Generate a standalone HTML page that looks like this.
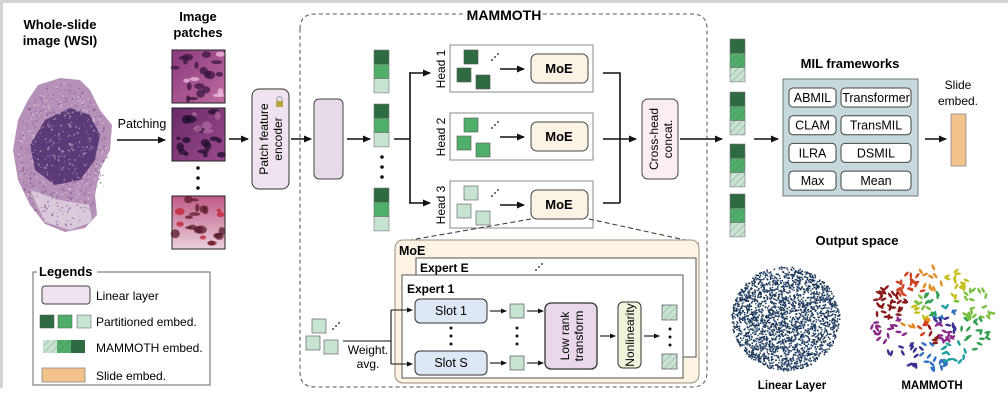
<!DOCTYPE html>
<html><head><meta charset="utf-8"><style>
html,body{margin:0;padding:0;background:#fff}
svg{display:block;font-family:"Liberation Sans",Arial,sans-serif}
.b{font-weight:bold}
</style></head><body>
<svg id="s" width="1008" height="410" viewBox="0 0 1008 410" xmlns="http://www.w3.org/2000/svg">
<defs>
<marker id="ar" markerWidth="8" markerHeight="8" refX="7" refY="4" orient="auto" markerUnits="userSpaceOnUse"><path d="M0,0.5 L8,4 L0,7.5 z" fill="#111"/></marker>
<marker id="ars" markerWidth="6" markerHeight="6" refX="5" refY="3" orient="auto" markerUnits="userSpaceOnUse"><path d="M0,0.5 L6,3 L0,5.5 z" fill="#111"/></marker>
<pattern id="h" width="5" height="5" patternUnits="userSpaceOnUse" patternTransform="rotate(45)"><line x1="0" y1="0" x2="0" y2="5" stroke="#555" stroke-width="0.8" opacity="0.6"/></pattern>
<linearGradient id="pg1" x1="0" y1="0" x2="1" y2="1"><stop offset="0" stop-color="#8a3a7c"/><stop offset="1" stop-color="#c06aa0"/></linearGradient>
<linearGradient id="pg2" x1="0" y1="0" x2="1" y2="1"><stop offset="0" stop-color="#6a2a6a"/><stop offset="1" stop-color="#9a4a8e"/></linearGradient>
<linearGradient id="pg3" x1="0" y1="0" x2="0" y2="1"><stop offset="0" stop-color="#c05a86"/><stop offset="1" stop-color="#e9d0dc"/></linearGradient>
</defs>
<rect x="0" y="0" width="1008" height="3" fill="#d4d4d4"/>
<rect x="0" y="0" width="3" height="388" fill="#d4d4d4"/>

<text x="60" y="29" text-anchor="middle" class="b" font-size="13">Whole-slide</text>
<text x="60" y="45" text-anchor="middle" class="b" font-size="13">image (WSI)</text>
<path d="M38,85 L60,78 L80,80 L90,90 L100,110 L112,125 L110,150 L100,170 L95,195 L97,215 L85,228 L65,232 L45,224 L30,205 L18,180 L13,150 L18,120 L28,100 Z" fill="#b591b8"/>
<path d="M45,120 L70,108 L90,115 L100,135 L95,160 L80,180 L55,185 L35,170 L30,145 Z" fill="#5c3a78"/>
<path d="M30,190 L60,200 L90,205 L92,222 L70,230 L45,222 Z" fill="#d8c8da"/>
<g id="wsidots"></g>

<text x="198" y="21" text-anchor="middle" class="b" font-size="13">Image</text>
<text x="198" y="37" text-anchor="middle" class="b" font-size="13">patches</text>
<rect x="172" y="50" width="53" height="53" fill="url(#pg1)" stroke="#222"/>
<rect x="172" y="108" width="53" height="53" fill="url(#pg2)" stroke="#222"/>
<rect x="172" y="196" width="53" height="53" fill="url(#pg3)" stroke="#222"/>
<g id="pdots"></g>
<circle cx="198" cy="168" r="1.8" fill="#111"/><circle cx="198" cy="178" r="1.8" fill="#111"/><circle cx="198" cy="188" r="1.8" fill="#111"/>
<text x="142" y="128" text-anchor="middle" font-size="12.5">Patching</text>
<line x1="117" y1="140" x2="165" y2="140" stroke="#111" stroke-width="1.6" marker-end="url(#ar)"/>
<line x1="229" y1="139" x2="248" y2="139" stroke="#111" stroke-width="1.6" marker-end="url(#ar)"/>

<rect x="252" y="89" width="37" height="100" rx="7" fill="#efe3ef" stroke="#333" stroke-width="1"/>
<text transform="translate(268,139) rotate(-90)" text-anchor="middle" font-size="12">Patch feature</text>
<text transform="translate(282,139) rotate(-90)" text-anchor="middle" font-size="12">encoder</text>
<rect x="276" y="101" width="7" height="6" fill="#b5a640"/><path d="M277,101 v-2 a2.5,2.5 0 0 1 5,0 v2" fill="none" stroke="#999" stroke-width="1"/>
<line x1="291" y1="139" x2="311" y2="139" stroke="#111" stroke-width="1.6" marker-end="url(#ar)"/>

<path d="M300,29 Q300,14 315,14 L692,14 Q707,14 707,29 L707,372 Q707,387 692,387 L315,387 Q300,387 300,372 Z" fill="none" stroke="#555" stroke-dasharray="4,3" stroke-width="1"/>
<rect x="466" y="5" width="76" height="18" fill="#fff"/>
<text x="504" y="20" text-anchor="middle" class="b" font-size="14">MAMMOTH</text>

<rect x="314" y="99" width="29" height="80" rx="5" fill="#e6dae9" stroke="#444"/>
<line x1="347" y1="139" x2="370" y2="139" stroke="#111" stroke-width="1.6" marker-end="url(#ar)"/>
<g id="stacks"></g>
<circle cx="382" cy="157" r="1.8" fill="#111"/><circle cx="382" cy="167" r="1.8" fill="#111"/><circle cx="382" cy="177" r="1.8" fill="#111"/>
<path d="M394,139 H410 M410,73 V203" stroke="#111" stroke-width="1.6" fill="none"/>
<line x1="409" y1="73" x2="430" y2="73" stroke="#111" stroke-width="1.6" marker-end="url(#ar)"/>
<line x1="409" y1="203" x2="430" y2="203" stroke="#111" stroke-width="1.6" marker-end="url(#ar)"/>

<g id="heads"></g>
<path d="M603,73 H620 V203 M603,203 H620" stroke="#111" stroke-width="1.6" fill="none"/>
<line x1="603" y1="139" x2="636" y2="139" stroke="#111" stroke-width="1.6" marker-end="url(#ar)"/>
<rect x="642" y="99" width="36" height="80" rx="6" fill="#fbeef2" stroke="#444"/>
<text transform="translate(658,139) rotate(-90)" text-anchor="middle" font-size="12">Cross-head</text>
<text transform="translate(672,139) rotate(-90)" text-anchor="middle" font-size="12">concat.</text>
<line x1="680" y1="139" x2="722" y2="139" stroke="#111" stroke-width="1.6" marker-end="url(#ar)"/>
<path d="M531,219 L405,241 M589,219 L699,243" stroke="#333" stroke-dasharray="5,3" fill="none"/>

<rect x="395" y="240" width="304" height="143" rx="8" fill="#fcf3e3" stroke="#9a8f80"/>
<text x="399" y="255" class="b" font-size="12.5">MoE</text>
<rect x="416" y="258" width="280" height="99" fill="#fff" stroke="#555"/>
<text x="420" y="272" class="b" font-size="12">Expert E</text>
<g fill="#111"><circle cx="536" cy="270" r="0.9"/><circle cx="539" cy="267" r="0.9"/><circle cx="542" cy="264" r="0.9"/></g>
<rect x="402" y="275" width="281" height="103" fill="#fff" stroke="#555"/>
<text x="407" y="293" class="b" font-size="12">Expert 1</text>
<rect x="415" y="299" width="72" height="24" rx="5" fill="#dde7f6" stroke="#333"/>
<text x="451" y="315" text-anchor="middle" font-size="12.5">Slot 1</text>
<rect x="415" y="351" width="72" height="24" rx="5" fill="#dde7f6" stroke="#333"/>
<text x="451" y="367" text-anchor="middle" font-size="12.5">Slot S</text>
<g fill="#111"><circle cx="451" cy="328" r="1.5"/><circle cx="451" cy="336" r="1.5"/><circle cx="451" cy="344" r="1.5"/>
<circle cx="517" cy="328" r="1.5"/><circle cx="517" cy="336" r="1.5"/><circle cx="517" cy="344" r="1.5"/>
<circle cx="670" cy="329" r="1.5"/><circle cx="670" cy="337" r="1.5"/><circle cx="670" cy="345" r="1.5"/></g>
<g stroke="#111" stroke-width="1.1" marker-end="url(#ars)">
<line x1="490" y1="311" x2="506" y2="311"/><line x1="490" y1="363" x2="506" y2="363"/>
<line x1="527" y1="311" x2="543" y2="311"/><line x1="527" y1="363" x2="543" y2="363"/>
<line x1="600" y1="336" x2="615" y2="336"/><line x1="644" y1="336" x2="659" y2="336"/>
</g>
<rect x="510" y="304" width="14" height="14" fill="#c7e3d2" stroke="#555" stroke-width="0.7"/>
<rect x="510" y="356" width="14" height="14" fill="#c7e3d2" stroke="#555" stroke-width="0.7"/>
<rect x="545" y="303" width="52" height="66" rx="6" fill="#e9d8ea" stroke="#333" stroke-width="1.3"/>
<text transform="translate(569,336) rotate(-90)" text-anchor="middle" font-size="12">Low rank</text>
<text transform="translate(583,336) rotate(-90)" text-anchor="middle" font-size="12">transform</text>
<rect x="618" y="302" width="23" height="66" rx="5" fill="#eef5dc" stroke="#333"/>
<text transform="translate(634,335) rotate(-90)" text-anchor="middle" font-size="12">Nonlinearity</text>
<rect x="662" y="305" width="15" height="15" fill="#c7e3d2"/><rect x="662" y="305" width="15" height="15" fill="url(#h)" stroke="#555" stroke-width="0.7"/>
<rect x="662" y="354" width="15" height="15" fill="#c7e3d2"/><rect x="662" y="354" width="15" height="15" fill="url(#h)" stroke="#555" stroke-width="0.7"/>
<rect x="312" y="319" width="14" height="14" fill="#c7e3d2" stroke="#666" stroke-width="0.7"/>
<rect x="306" y="336" width="14" height="14" fill="#c7e3d2" stroke="#666" stroke-width="0.7"/>
<rect x="324" y="340" width="14" height="14" fill="#c7e3d2" stroke="#666" stroke-width="0.7"/>
<g fill="#111"><circle cx="333" cy="329" r="0.9"/><circle cx="336" cy="326" r="0.9"/><circle cx="339" cy="323" r="0.9"/></g>
<path d="M343,341 H391 M391,310 V364" stroke="#111" stroke-width="1.1" fill="none"/>
<line x1="391" y1="310" x2="412" y2="310" stroke="#111" stroke-width="1.1" marker-end="url(#ars)"/>
<line x1="391" y1="364" x2="412" y2="364" stroke="#111" stroke-width="1.1" marker-end="url(#ars)"/>
<text x="368" y="354" text-anchor="middle" font-size="12">Weight.</text>
<text x="368" y="368" text-anchor="middle" font-size="12">avg.</text>

<line x1="754" y1="139" x2="778" y2="139" stroke="#111" stroke-width="1.6" marker-end="url(#ar)"/>
<text x="850" y="68" text-anchor="middle" class="b" font-size="13">MIL frameworks</text>
<rect x="783" y="79" width="135" height="117" fill="#c5d9dc" stroke="#777"/>
<g id="mil"></g>
<line x1="925" y1="139" x2="946" y2="139" stroke="#111" stroke-width="1.6" marker-end="url(#ar)"/>
<text x="958" y="89" text-anchor="middle" font-size="12">Slide</text>
<text x="958" y="105" text-anchor="middle" font-size="12">embed.</text>
<rect x="951" y="114" width="15" height="52" fill="#f3c18a" stroke="#888" stroke-width="0.8"/>

<text x="857" y="245" text-anchor="middle" class="b" font-size="13">Output space</text>
<g id="sc1"></g><g id="sc2"></g>
<text x="792" y="389" text-anchor="middle" class="b" font-size="11.5">Linear Layer</text>
<text x="932" y="389" text-anchor="middle" class="b" font-size="11.5">MAMMOTH</text>

<rect x="33" y="272" width="177" height="113" fill="#fff" stroke="#666"/>
<rect x="37" y="263" width="60" height="14" fill="#fff"/>
<text x="39" y="276" class="b" font-size="13">Legends</text>
<rect x="42" y="286" width="48" height="18" rx="3" fill="#efe3ef" stroke="#444"/>
<text x="96" y="300" font-size="12">Linear layer</text>
<rect x="40" y="315" width="14" height="13" fill="#2e6b40" stroke="#555" stroke-width="0.5"/>
<rect x="58" y="315" width="14" height="13" fill="#4fae6a" stroke="#555" stroke-width="0.5"/>
<rect x="77" y="315" width="14" height="13" fill="#c7e3d2" stroke="#555" stroke-width="0.5"/>
<text x="96" y="326" font-size="12">Partitioned embed.</text>
<rect x="43" y="340" width="14" height="13" fill="#c7e3d2"/><rect x="57" y="340" width="14" height="13" fill="#4fae6a"/><rect x="71" y="340" width="14" height="13" fill="#2e6b40"/>
<rect x="43" y="340" width="42" height="13" fill="url(#h)"/>
<text x="96" y="352" font-size="12">MAMMOTH embed.</text>
<rect x="42" y="368" width="43" height="14" fill="#f3c18a" stroke="#888" stroke-width="0.8"/>
<text x="96" y="380" font-size="12">Slide embed.</text>
</svg>
<script>
var NS="http://www.w3.org/2000/svg";
function el(p,t,a){var e=document.createElementNS(NS,t);for(var k in a)e.setAttribute(k,a[k]);document.getElementById(p).appendChild(e);return e;}
var seed=7;function r(){seed=(seed*16807)%2147483647;return seed/2147483647;}
var C=["#2e6b40","#4fae6a","#c7e3d2"];
function stack(x,y,h){for(var i=0;i<3;i++){el("stacks","rect",{x:x,y:y+i*14.3,width:15,height:14.3,fill:C[i],stroke:"#777","stroke-width":0.6});if(h)el("stacks","rect",{x:x,y:y+i*14.3,width:15,height:14.3,fill:"url(#h)"});}}
stack(374,50);stack(374,104);stack(374,188);
[39,92,144,194].forEach(function(y){stack(730,y,1);});
var H=[45,113,181];
H.forEach(function(y,i){
 el("heads","rect",{x:450,y:y,width:143,height:47,fill:"#fff",stroke:"#888"});
 var t=el("heads","text",{transform:"translate(445,"+(y+24)+") rotate(-90)","text-anchor":"middle","font-size":12});t.textContent="Head "+(i+1);
 [[464,y+5],[457,y+23],[476,y+30]].forEach(function(p){el("heads","rect",{x:p[0],y:p[1],width:14,height:14,fill:C[i],stroke:"#555","stroke-width":0.6});});
 [[492,y+15],[495,y+12],[498,y+9]].forEach(function(p){el("heads","circle",{cx:p[0],cy:p[1],r:0.9,fill:"#111"});});
 el("heads","line",{x1:500,y1:y+24,x2:524,y2:y+24,stroke:"#111","stroke-width":1.6,"marker-end":"url(#ar)"});
 el("heads","rect",{x:531,y:y+9,width:57,height:29,rx:6,fill:"#fbf3e4",stroke:"#444"});
 var m=el("heads","text",{x:559,y:y+28,"text-anchor":"middle","font-weight":"bold","font-size":13});m.textContent="MoE";
});
var L=[["ABMIL","Transformer"],["CLAM","TransMIL"],["ILRA","DSMIL"],["Max","Mean"]];
L.forEach(function(row,i){var y=88+i*27.7;
 el("mil","rect",{x:789,y:y,width:47,height:19,rx:4,fill:"#fff",stroke:"#444"});
 el("mil","rect",{x:841,y:y,width:70,height:19,rx:4,fill:"#fff",stroke:"#444"});
 var a=el("mil","text",{x:812.5,y:y+14,"text-anchor":"middle","font-size":12.5});a.textContent=row[0];
 var b=el("mil","text",{x:876,y:y+14,"text-anchor":"middle","font-size":12.5});b.textContent=row[1];});
for(var i=0;i<900;i++){var a=r()*6.283,d=Math.sqrt(r());var x=63+Math.cos(a)*d*45,y=155+Math.sin(a)*d*72;
 el("wsidots","circle",{cx:x,cy:y,r:0.4+r()*0.6,fill:r()<0.5?"#f2e6f0":"#6a3a7a",opacity:0.5});}
[[50,"#3a1640","#f0c0e0"],[108,"#1e0d2a","#b06aa0"],[196,"#5a1a2a","#ffffff"]].forEach(function(p,j){
 for(var i=0;i<22;i++){el("pdots","ellipse",{cx:175+r()*47,cy:p[0]+3+r()*47,rx:2+r()*4,ry:1.5+r()*3,fill:r()<0.6?p[1]:(j==2?"#c02030":p[2]),opacity:0.75});}});
for(var i=0;i<3200;i++){var a=r()*6.283,d=Math.sqrt(r());var x=785+Math.cos(a)*d*54,y=318+Math.sin(a)*d*52;
 if(r()<0.25)continue; el("sc1","rect",{x:x,y:y,width:1.5,height:1.5,fill:r()<0.6?"#16304e":"#2e4e74"});}
var cols=["#8b1a1a","#d04020","#e08a20","#c8c020","#7ac040","#30a050","#20a0a0","#3070c0","#3a3090","#8a2a8a"];
for(var i=0;i<240;i++){var a=r()*6.283,d=Math.sqrt(r());var x=932+Math.cos(a)*d*62,y=318+Math.sin(a)*d*52;
 var ang=Math.atan2(y-318,x-932),ci=Math.floor(((ang+3.1416)/6.2832)*10+(d<0.5?3:0))%10;
 var rot=r()*180;el("sc2","ellipse",{cx:x,cy:y,rx:3.2,ry:1.3,fill:cols[ci],transform:"rotate("+rot+" "+x+" "+y+")"});}
</script>
</body></html>
